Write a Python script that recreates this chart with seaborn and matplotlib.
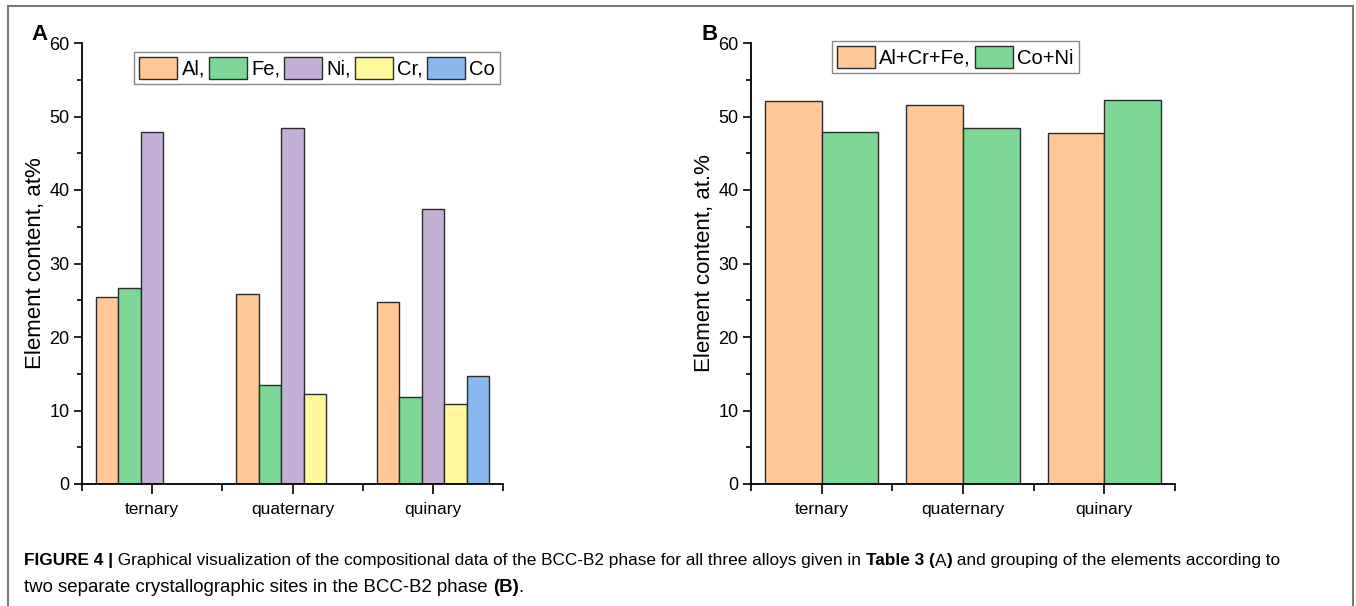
import pandas as pd
import matplotlib
matplotlib.use("Agg")
import matplotlib.pyplot as plt
from matplotlib.ticker import MultipleLocator, FixedLocator
from matplotlib.patches import Rectangle
import seaborn as sns

sns.set_style("ticks")
plt.rcParams['font.family'] = ['Liberation Sans', 'DejaVu Sans']
plt.rcParams['text.color'] = 'black'
plt.rcParams['axes.labelcolor'] = 'black'
plt.rcParams['xtick.color'] = 'black'
plt.rcParams['ytick.color'] = 'black'

# ---- data ----
alloys = ['ternary', 'quaternary', 'quinary']
elements = ['Al', 'Fe', 'Ni', 'Cr', 'Co']
al = [25.5, 25.8, 24.8]
fe = [26.6, 13.5, 11.9]
ni = [47.9, 48.5, 37.4]
cr = [None, 12.2, 10.9]
co = [None, None, 14.7]

groups = ['Al+Cr+Fe', 'Co+Ni']
al_cr_fe = [52.1, 51.5, 47.7]
co_ni = [47.9, 48.5, 52.2]

elem_colors = ['#FFC896', '#7DD897', '#C5B0D5', '#FFF99C', '#89B8EF']
group_colors = ['#FFC896', '#7DD897']

rows = []
for el, vals in zip(elements, [al, fe, ni, cr, co]):
    for a, v in zip(alloys, vals):
        if v is not None:
            rows.append({'alloy': a, 'element': el, 'content': v})
df_a = pd.DataFrame(rows)

rows = []
for g, vals in zip(groups, [al_cr_fe, co_ni]):
    for a, v in zip(alloys, vals):
        rows.append({'alloy': a, 'group': g, 'content': v})
df_b = pd.DataFrame(rows)

W, H = 1356, 606
fig = plt.figure(figsize=(W / 100, H / 100), dpi=100)
ax_a = fig.add_axes([82 / W, 1 - 484 / H, 421 / W, 441 / H])
ax_b = fig.add_axes([751 / W, 1 - 484 / H, 424 / W, 441 / H])

sns.barplot(data=df_a, x='alloy', y='content', hue='element', order=alloys,
            hue_order=elements, palette=elem_colors, saturation=1,
            edgecolor='#2b2b2b', linewidth=1, ax=ax_a)
sns.barplot(data=df_b, x='alloy', y='content', hue='group', order=alloys,
            hue_order=groups, palette=group_colors, saturation=1,
            edgecolor='#2b2b2b', linewidth=1, ax=ax_b)

ylabels = ['Element content, at%', 'Element content, at.%']
for ax, yl in zip([ax_a, ax_b], ylabels):
    ax.set_xlim(-0.5, 2.5)
    ax.set_ylim(0, 60)
    ax.yaxis.set_major_locator(MultipleLocator(10))
    ax.yaxis.set_minor_locator(MultipleLocator(5))
    ax.xaxis.set_minor_locator(FixedLocator([-0.5, 0.5, 1.5, 2.5]))
    ax.set_xlabel('')
    ax.set_ylabel(yl, fontsize=16, labelpad=2)
    for s in ['top', 'right']:
        ax.spines[s].set_visible(False)
    for s in ['left', 'bottom']:
        ax.spines[s].set_linewidth(1.3)
        ax.spines[s].set_color('black')
    ax.tick_params(axis='y', which='major', direction='out', length=6, width=1.2,
                   labelsize=13, pad=3)
    ax.tick_params(axis='y', which='minor', direction='out', length=3.5, width=1.2)
    ax.tick_params(axis='x', which='major', direction='out', length=7, width=1.2,
                   labelsize=12.5, pad=6)
    ax.tick_params(axis='x', which='minor', direction='out', length=5, width=1.2)
    ax.set_facecolor('white')

# legends
leg_kw = dict(borderaxespad=0, fontsize=14.5, handlelength=1.9, handleheight=1.3,
              handletextpad=0.2, columnspacing=0.2, borderpad=0.25,
              fancybox=False, edgecolor='#888888', framealpha=1)
h, l = ax_a.get_legend_handles_labels()
ax_a.legend(h, ['Al,', 'Fe,', 'Ni,', 'Cr,', 'Co'], ncol=5, loc='upper right',
            bbox_to_anchor=(0.993, 0.98), **leg_kw)
h, l = ax_b.get_legend_handles_labels()
ax_b.legend(h, ['Al+Cr+Fe,', 'Co+Ni'], ncol=2, loc='upper center',
            bbox_to_anchor=(0.482, 1.005), **leg_kw)

# panel letters
fig.text(31 / W, 1 - 34 / H, 'A', fontsize=16, fontweight='bold', ha='left', va='center')
fig.text(701 / W, 1 - 34 / H, 'B', fontsize=16, fontweight='bold', ha='left', va='center')

# frame around the figure area
fig.patches.append(Rectangle((8 / W, -0.05), (1353 - 8) / W, 1.05 - 6 / H,
                             transform=fig.transFigure, fill=False,
                             edgecolor='#7a7a7a', linewidth=1.5))

# caption (mixed bold / regular runs)
line1 = [('FIGURE 4 |', 'bold'),
         (' Graphical visualization of the compositional data of the BCC-B2 phase '
          'for all three alloys given in ', 'normal'),
         ('Table 3 (', 'bold'), ('A', 'normal'), (')', 'bold'),
         (' and grouping of the elements according to', 'normal')]
line2 = [('two separate crystallographic sites in the BCC-B2 phase ', 'normal'),
         ('(B)', 'bold'), ('.', 'normal')]

fig.canvas.draw()
renderer = fig.canvas.get_renderer()
for line, yc, fs in [(line1, 561, 12.4), (line2, 587, 13.4)]:
    x = 24
    for txt, wt in line:
        t = fig.text(x / W, 1 - yc / H, txt, fontsize=fs, fontweight=wt,
                     ha='left', va='center')
        x = t.get_window_extent(renderer).x1

fig.savefig('out.png', dpi=100)
